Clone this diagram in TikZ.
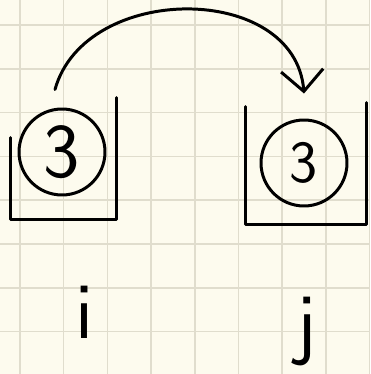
\documentclass[tikz,border=0pt]{standalone}
\usepackage{tikz}
\usetikzlibrary{arrows.meta}
\definecolor{paper}{HTML}{FDFBEE}
\definecolor{gridline}{HTML}{E0DDCD}

\begin{document}
\begin{tikzpicture}[x=0.02cm,y=-0.02cm,
	ink/.style={line width=1.7pt,line cap=round,line join=round},
	val/.style={circle,draw,ink,minimum size=1.72cm,inner sep=0pt},
	cell/.style={rectangle,inner sep=0pt},
	idx/.style={font=\sffamily\fontsize{46}{46}\selectfont}]
	\useasboundingbox (0,0) rectangle (370,374);
	
	% Paper and grid
	\fill[paper] (0,0) rectangle (370,374);
	\foreach \k in {0,...,8} {
		\draw[gridline,line width=0.9pt] (20+43.7*\k,0) -- (20+43.7*\k,374);
	}
	\foreach \k in {0,...,7} {
		\draw[gridline,line width=0.9pt] (0,25+43.8*\k) -- (370,25+43.8*\k);
	}
	
	% Cells (open at the top)
	\node[cell,minimum width=2.1cm,minimum height=2.42cm] (boxi) at (63.5,158.5) {};
	\node[cell,minimum width=2.4cm,minimum height=2.4cm] (boxj) at (306,164) {};
	\draw[ink] ([shift={(0,40)}]boxi.north west) -- (boxi.south west) -- (boxi.south east) -- (boxi.north east);
	\draw[ink] ([shift={(0,3)}]boxj.north west) -- (boxj.south west) -- (boxj.south east) -- ([shift={(0,-1)}]boxj.north east);
	
	% Values
	\node[val,font=\sffamily\fontsize{44}{44}\selectfont] (vi) at (62,152) {3};
	\node[val,font=\sffamily\fontsize{34}{34}\selectfont] (vj) at (304,163) {3};
	
	% Move from i to j
	\draw[ink,-{Straight Barb[length=12pt,width=24pt]}] ([shift={(-7,-18)}]vi.north)
		.. controls (85,-18) and (295,-18) .. ([shift={(0,-25)}]vj.north);
	
	% Indices
	\node[idx] (li) at (85,312) {i};
	\node[idx] (lj) at (307,332) {j};
	
\end{tikzpicture}
\end{document}
